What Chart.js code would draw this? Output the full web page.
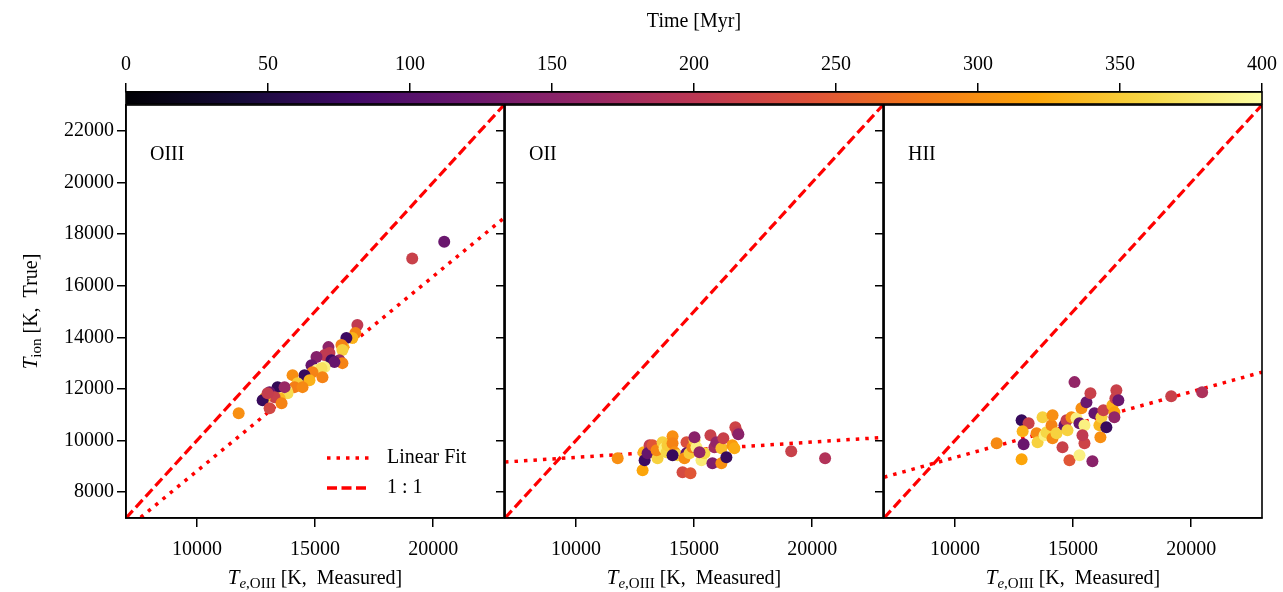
<!DOCTYPE html>
<html>
<head>
<meta charset="utf-8">
<script src="https://cdn.jsdelivr.net/npm/chart.js@4"></script>
<style>
  body { margin: 0; background: #fff; }
  #wrap { position: relative; width: 1283px; height: 592px; overflow: hidden; }
  canvas { position: absolute; top: 0; }
</style>
</head>
<body>
<div id="wrap">
  <canvas id="panel-oiii" width="510" height="592" style="left:0px"></canvas>
  <canvas id="panel-oii" width="394" height="592" style="left:495px"></canvas>
  <canvas id="panel-hii" width="394" height="592" style="left:874px"></canvas>
  <canvas id="colorbar" width="1283" height="106" style="left:0px"></canvas>
</div>
<script>
// Axis setup
const axisMin = 7000;
const axisMax = 23000;
const xTicks = [10000, 15000, 20000];
const yTicks = [8000, 10000, 12000, 14000, 16000, 18000, 20000, 22000];
const cbTicks = [0, 50, 100, 150, 200, 250, 300, 350, 400];
const timeMax = 400;

// Reference lines (values at x = 7000 and x = 23000)
const lineX = [7000, 23000];
const oneToOne = [7000, 23000];
const oiiiFit = [6556, 18620];
const oiiFit = [9170, 10120];
const hiiFit = [8580, 12650];

// OIII panel: measured Te, true T, time [Myr]
const oiiiX = [16793, 16709, 16582, 16329, 16202, 16118, 16160, 15569, 15611, 15400, 15063, 16034, 16160, 15696,
  15822, 14851, 15400, 15063, 15274, 14894, 14556, 15316, 14767, 14050, 14260, 14134, 14472, 13796, 13838, 13416,
  13078, 13500, 13290, 13585, 12868, 12783, 13078, 12994, 13712, 11770, 19115, 20470];
const oiiiY = [14473, 14163, 13969, 13969, 13620, 13698, 13504, 13620, 13388, 13310, 13233, 13116, 13000, 13116,
  13039, 12922, 12845, 12729, 12806, 12651, 12535, 12457, 12341, 12535, 12225, 12070, 12070, 11953, 11837, 12070,
  11876, 11643, 11682, 11450, 11643, 11566, 11256, 11837, 12070, 11062, 17050, 17700];
const oiiiT = [205, 290, 330, 75, 330, 290, 355, 155, 205, 205, 145, 165, 290, 75,
  115, 115, 385, 390, 370, 290, 70, 290, 330, 300, 350, 285, 295, 380, 365, 65,
  115, 335, 215, 290, 330, 70, 225, 210, 165, 300, 215, 120];

// OII panel
const oiiX = [11770, 12825, 12868, 12910, 13121, 13036, 13247, 13458, 13416, 13670, 13754, 13838, 13881, 14092,
  14092, 14176, 14303, 14092, 14514, 14851, 14683, 14683, 14598, 14809, 14936, 15020, 15105, 15020, 15316, 15442,
  15231, 15696, 15780, 15865, 15949, 16160, 16160, 16244, 16371, 16624, 16709, 16751, 16836, 16878, 19115, 20550];
const oiiY = [9318, 8853, 9550, 9240, 9822, 9512, 9822, 9318, 9628, 9938, 9705, 9550, 9822, 10171,
  9899, 9550, 9434, 9434, 8775, 8736, 9938, 9512, 9318, 9512, 9744, 10016, 9744, 10132, 9240, 9512,
  9550, 10209, 9124, 9744, 9938, 9705, 9124, 10093, 9357, 9822, 9705, 10519, 10326, 10248, 9589, 9318];
const oiiT = [300, 320, 330, 75, 210, 115, 245, 355, 295, 355, 385, 360, 350, 300,
  290, 300, 360, 70, 230, 245, 235, 105, 300, 350, 290, 355, 385, 150, 380, 360,
  160, 215, 140, 175, 160, 340, 300, 215, 70, 310, 325, 220, 210, 150, 215, 190];

// HII panel
const hiiX = [11770, 12825, 12825, 13121, 12868, 12910, 13459, 13501, 13712, 13796, 13881, 14092, 14134, 14134,
  14303, 14556, 14640, 14725, 14767, 14851, 14936, 15063, 15147, 15274, 15358, 15274, 15485, 15485, 15400, 15569,
  15738, 15822, 15907, 16118, 16160, 16202, 16287, 16413, 16667, 16751, 16751, 16836, 16794, 16920, 19157, 20466];
const hiiY = [9899, 9279, 10791, 10674, 10364, 9860, 10287, 9938, 10907, 10209, 10326, 10597, 10984, 10093,
  10287, 9744, 10597, 10791, 10403, 9240, 10907, 12264, 10868, 10674, 11256, 9434, 10597, 9899, 10209, 11488,
  11837, 9202, 11062, 10597, 10132, 10907, 11178, 10519, 11372, 11101, 10907, 11953, 11643, 11566, 11721, 11876];
const hiiT = [295, 320, 70, 215, 330, 120, 295, 355, 355, 385, 360, 290, 300, 295,
  355, 215, 115, 210, 355, 245, 300, 160, 385, 115, 300, 385, 385, 220, 205, 120,
  215, 150, 115, 335, 300, 355, 215, 70, 330, 320, 160, 215, 215, 120, 215, 185];

// inferno colormap
const infernoStops = ['#000004', '#160b39', '#420a68', '#6a176e', '#932667', '#bc3754',
  '#dd513a', '#f37819', '#fca50a', '#f6d746', '#fcffa4'];

function hexToRgb(h) {
  return [parseInt(h.slice(1, 3), 16), parseInt(h.slice(3, 5), 16), parseInt(h.slice(5, 7), 16)];
}

function inferno(f) {
  f = Math.min(1, Math.max(0, f));
  const pos = f * (infernoStops.length - 1);
  const i = Math.min(Math.floor(pos), infernoStops.length - 2);
  const r = pos - i;
  const a = hexToRgb(infernoStops[i]);
  const b = hexToRgb(infernoStops[i + 1]);
  const c = a.map((v, k) => Math.round(v + (b[k] - v) * r));
  return `rgb(${c[0]}, ${c[1]}, ${c[2]})`;
}

const serif = "'Liberation Serif', 'Times New Roman', serif";
Chart.defaults.font.family = serif;
Chart.defaults.font.size = 20;
Chart.defaults.color = '#000';

// Draw text made of pieces (for subscripts), centred at x, y
function drawRich(ctx, parts, x, y, rotate) {
  ctx.save();
  ctx.translate(x, y);
  if (rotate) ctx.rotate(-Math.PI / 2);
  let total = 0;
  parts.forEach(p => { ctx.font = p.font; p.w = ctx.measureText(p.text).width; total += p.w; });
  let cx = -total / 2;
  ctx.fillStyle = '#000';
  ctx.textBaseline = 'alphabetic';
  ctx.textAlign = 'left';
  parts.forEach(p => {
    ctx.font = p.font;
    ctx.fillText(p.text, cx, p.dy || 0);
    cx += p.w;
  });
  ctx.restore();
}

const framePlugin = {
  id: 'frame',
  afterDraw(chart) {
    const a = chart.chartArea;
    const ctx = chart.ctx;
    ctx.save();
    ctx.strokeStyle = '#000';
    ctx.lineWidth = 1.6;
    ctx.strokeRect(a.left, a.top, a.right - a.left, a.bottom - a.top);
    ctx.restore();
  }
};

const panelTextPlugin = {
  id: 'panelText',
  afterDraw(chart, args, opts) {
    const ctx = chart.ctx;
    const a = chart.chartArea;
    // panel name
    ctx.save();
    ctx.font = `20px ${serif}`;
    ctx.fillStyle = '#000';
    ctx.textBaseline = 'alphabetic';
    ctx.fillText(opts.label, a.left + 24, a.top + 55);
    ctx.restore();

    // x axis title
    const cx = (a.left + a.right) / 2;
    drawRich(ctx, [
      { text: 'T', font: `italic 21px ${serif}` },
      { text: 'e', font: `italic 15px ${serif}`, dy: 4 },
      { text: ',OIII', font: `15px ${serif}`, dy: 4 },
      { text: ' [K,  Measured]', font: `20px ${serif}` }
    ], cx, 584, false);

    if (opts.yTitle) {
      drawRich(ctx, [
        { text: 'T', font: `italic 21px ${serif}` },
        { text: 'ion', font: `15px ${serif}`, dy: 4 },
        { text: ' [K,  True]', font: `20px ${serif}` }
      ], 37, (a.top + a.bottom) / 2, true);
    }

    if (opts.legend) {
      const items = [
        { text: 'Linear Fit', dash: [3.5, 6], y: a.bottom - 60 },
        { text: '1 : 1', dash: [10, 4.5], y: a.bottom - 30 }
      ];
      items.forEach(it => {
        ctx.save();
        ctx.strokeStyle = '#ff0000';
        ctx.lineWidth = 3.5;
        ctx.setLineDash(it.dash);
        ctx.beginPath();
        ctx.moveTo(a.right - 177, it.y);
        ctx.lineTo(a.right - 135, it.y);
        ctx.stroke();
        ctx.setLineDash([]);
        ctx.font = `20px ${serif}`;
        ctx.fillStyle = '#000';
        ctx.textBaseline = 'middle';
        ctx.fillText(it.text, a.right - 117, it.y);
        ctx.restore();
      });
    }
  }
};

function panelChart(id, xs, ys, ts, fitY, label, first) {
  const pts = xs.map((x, i) => ({ x: x, y: ys[i] }));
  const colors = ts.map(t => inferno(t / timeMax));
  const fitPts = lineX.map((x, i) => ({ x: x, y: fitY[i] }));
  const onePts = lineX.map((x, i) => ({ x: x, y: oneToOne[i] }));

  return new Chart(document.getElementById(id), {
    type: 'scatter',
    data: {
      datasets: [
        {
          label: 'Linear Fit', data: fitPts, showLine: true, pointRadius: 0,
          borderColor: '#ff0000', borderWidth: 3.5, borderDash: [3.5, 6], order: 3
        },
        {
          label: '1 : 1', data: onePts, showLine: true, pointRadius: 0,
          borderColor: '#ff0000', borderWidth: 3.2, borderDash: [10, 4.5], order: 2
        },
        {
          label: label, data: pts, pointRadius: 6, pointBorderWidth: 0,
          backgroundColor: colors, pointBackgroundColor: colors, order: 1
        }
      ]
    },
    options: {
      responsive: false,
      animation: false,
      layout: { padding: { left: 0, right: 5, top: 105, bottom: 0 } },
      plugins: {
        legend: { display: false },
        tooltip: { enabled: false },
        panelText: { label: label, yTitle: first, legend: first }
      },
      scales: {
        x: {
          type: 'linear', min: axisMin, max: axisMax,
          afterBuildTicks: s => { s.ticks = xTicks.map(v => ({ value: v })); },
          afterFit: s => { s.height = 74; },
          ticks: { callback: v => String(v), padding: 11, maxRotation: 0 },
          grid: { drawOnChartArea: false, color: '#000', tickLength: 9, lineWidth: 1.5 },
          border: { color: '#000', width: 1.6 }
        },
        y: {
          type: 'linear', min: axisMin, max: axisMax,
          afterBuildTicks: s => { s.ticks = yTicks.map(v => ({ value: v })); },
          afterFit: s => { s.width = first ? 126 : 10; },
          ticks: { display: first, callback: v => String(v), padding: 3 },
          grid: { drawOnChartArea: false, color: '#000', tickLength: 9, lineWidth: 1.5 },
          border: { color: '#000', width: 1.6 }
        }
      }
    },
    plugins: [framePlugin, panelTextPlugin]
  });
}

panelChart('panel-oiii', oiiiX, oiiiY, oiiiT, oiiiFit, 'OIII', true);
panelChart('panel-oii', oiiX, oiiY, oiiT, oiiFit, 'OII', false);
panelChart('panel-hii', hiiX, hiiY, hiiT, hiiFit, 'HII', false);

// Colorbar on top
const gradientPlugin = {
  id: 'gradient',
  beforeDatasetsDraw(chart) {
    const a = chart.chartArea;
    const xs = chart.scales.x;
    const ctx = chart.ctx;
    const g = ctx.createLinearGradient(xs.getPixelForValue(0), 0, xs.getPixelForValue(timeMax), 0);
    for (let i = 0; i <= 40; i++) g.addColorStop(i / 40, inferno(i / 40));
    ctx.save();
    ctx.fillStyle = g;
    ctx.fillRect(a.left, a.top, a.right - a.left, a.bottom - a.top);
    ctx.restore();
  }
};

new Chart(document.getElementById('colorbar'), {
  type: 'scatter',
  data: { datasets: [{ data: [] }] },
  options: {
    responsive: false,
    animation: false,
    layout: { padding: { left: 126, right: 20, top: 0, bottom: 2 } },
    plugins: { legend: { display: false }, tooltip: { enabled: false } },
    scales: {
      x: {
        type: 'linear', position: 'top', min: 0, max: timeMax,
        afterBuildTicks: s => { s.ticks = cbTicks.map(v => ({ value: v })); },
        afterFit: s => { s.height = 92; },
        ticks: { callback: v => String(v), padding: 6, maxRotation: 0 },
        title: { display: true, text: 'Time [Myr]', padding: { top: 10, bottom: 0 } },
        grid: { drawOnChartArea: false, color: '#000', tickLength: 9, lineWidth: 1.5 },
        border: { color: '#000', width: 1.6 }
      },
      y: { display: false, min: 0, max: 1 }
    }
  },
  plugins: [gradientPlugin, framePlugin]
});
</script>
</body>
</html>
